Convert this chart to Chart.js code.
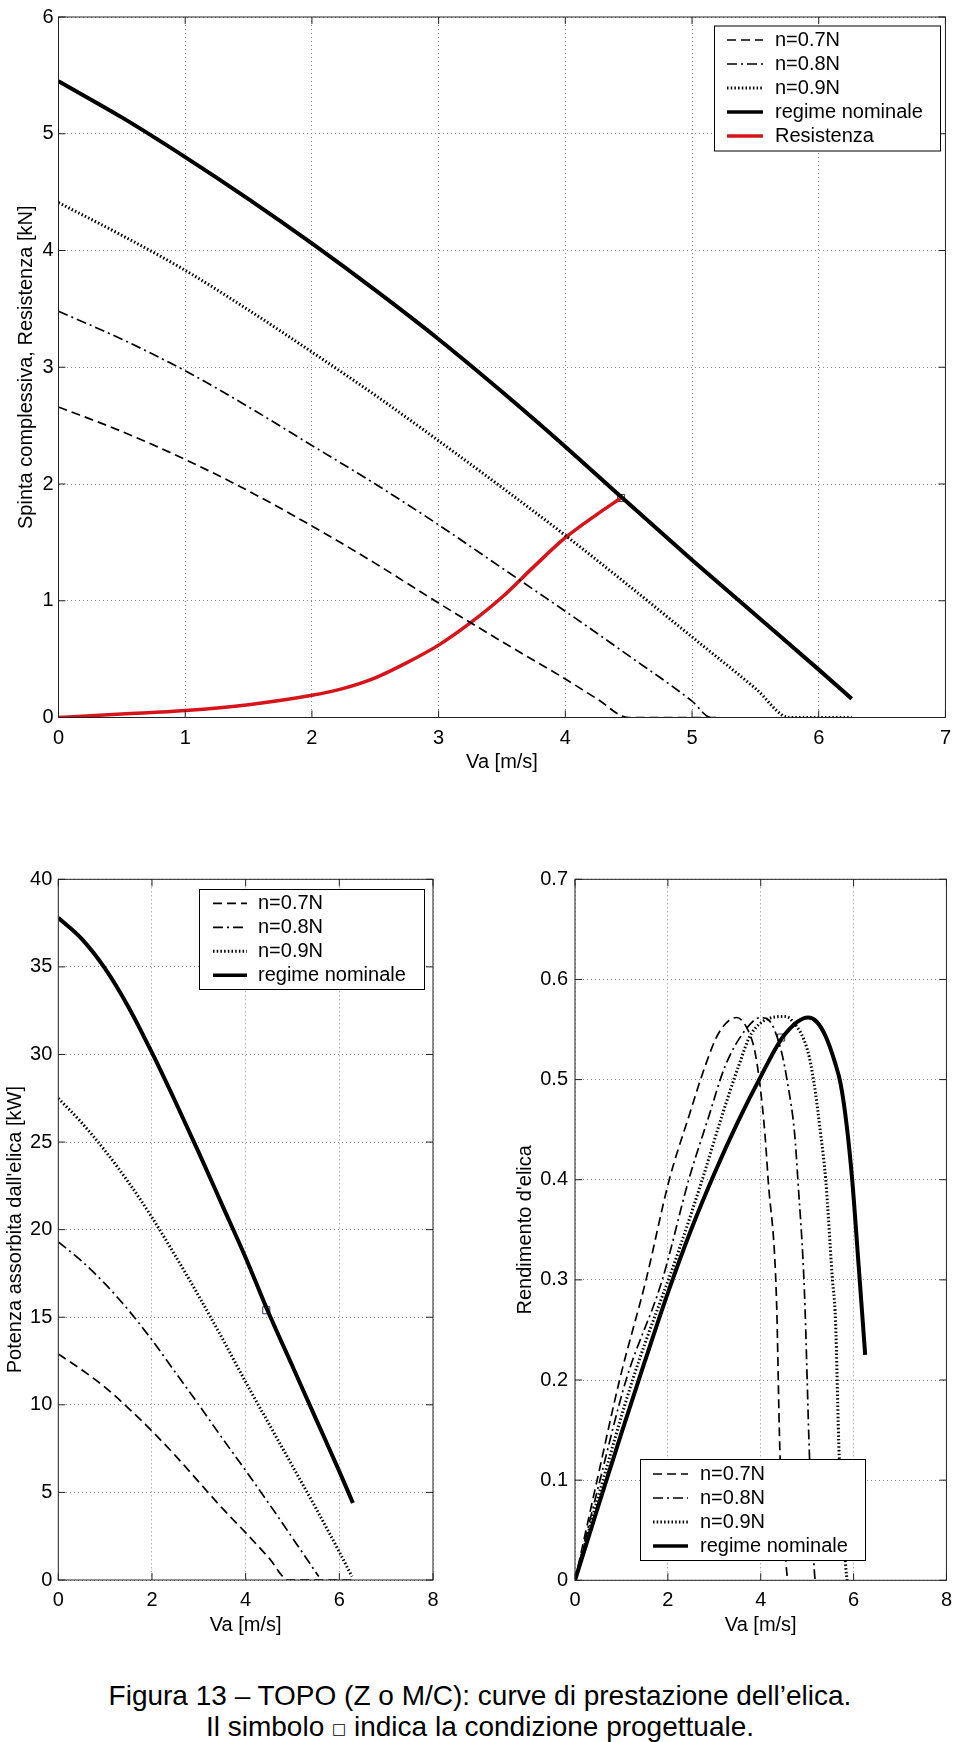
<!DOCTYPE html>
<html>
<head>
<meta charset="utf-8">
<script src="https://cdn.jsdelivr.net/npm/chart.js@4"></script>
<style>
  body { margin: 0; background: #fff; width: 960px; height: 1742px; position: relative; overflow: hidden;
         font-family: "Liberation Sans", Arial, sans-serif; }
  canvas { position: absolute; }
  #caption { position: absolute; left: 0; top: 1680px; width: 960px; text-align: center;
             font-size: 28px; line-height: 31px; color: #000; }
  #caption .sq { font-size: 15px; font-family: "DejaVu Sans", sans-serif; vertical-align: 2px; }
</style>
</head>
<body>
<canvas id="thrust" width="960" height="790" style="left:0;top:0"></canvas>
<canvas id="power" width="480" height="810" style="left:0;top:840px"></canvas>
<canvas id="eta" width="480" height="810" style="left:480px;top:840px"></canvas>
<div id="caption">Figura 13 – TOPO (Z o M/C): curve di prestazione dell’elica.<br>Il simbolo <span class="sq">□</span> indica la condizione progettuale.</div>

<script>
// --- spinta complessiva / resistenza [kN] vs Va [m/s]
const vaThrust70 = [0, 0.5, 1, 1.5, 2, 2.5, 3, 3.5, 4, 4.25, 4.5, 5.2];
const thrust70   = [2.66, 2.45, 2.21, 1.94, 1.64, 1.32, 0.98, 0.65, 0.33, 0.16, 0, 0];
const vaThrust80 = [0, 0.5, 1, 1.5, 2, 2.5, 3, 3.5, 4, 4.5, 5, 5.15, 5.2];
const thrust80   = [3.48, 3.24, 2.97, 2.66, 2.33, 2.0, 1.65, 1.28, 0.91, 0.53, 0.14, 0, 0];
const vaThrust90 = [0, 0.5, 1, 1.5, 2, 2.5, 3, 3.5, 4, 4.5, 5, 5.5, 5.77, 6.26];
const thrust90   = [4.41, 4.13, 3.83, 3.49, 3.13, 2.76, 2.37, 1.97, 1.56, 1.13, 0.69, 0.25, 0, 0];
const vaThrustNom = [0, 0.5, 1, 1.5, 2, 2.5, 3, 3.5, 4, 4.44, 5, 5.5, 6, 6.26];
const thrustNom   = [5.45, 5.14, 4.80, 4.44, 4.06, 3.66, 3.24, 2.79, 2.32, 1.89, 1.35, 0.88, 0.41, 0.16];
const vaRes      = [0, 0.5, 1, 1.5, 2, 2.25, 2.5, 2.75, 3, 3.25, 3.5, 3.75, 4, 4.25, 4.44];
const resistance = [0, 0.03, 0.06, 0.11, 0.19, 0.25, 0.34, 0.47, 0.62, 0.81, 1.03, 1.29, 1.54, 1.74, 1.88];

// --- potenza assorbita [kW]
const vaPow70 = [0, 0.5, 1, 1.5, 2, 2.5, 3, 3.5, 4, 4.5, 4.92, 6.29];
const pow70   = [12.9, 12.0, 11.0, 9.8, 8.5, 7.1, 5.6, 4.1, 2.7, 1.25, 0, 0];
const vaPow80 = [0, 0.5, 1, 1.5, 2, 2.5, 3, 3.5, 4, 4.5, 5, 5.56];
const pow80   = [19.3, 18.2, 16.9, 15.4, 13.7, 11.85, 10.0, 8.1, 6.25, 4.35, 2.4, 0.2];
const vaPow90 = [0, 0.5, 1, 1.5, 2, 2.5, 3, 3.5, 4, 4.5, 5, 5.5, 6, 6.27];
const pow90   = [27.5, 26.1, 24.5, 22.7, 20.7, 18.5, 16.2, 13.8, 11.3, 8.9, 6.5, 4.1, 1.6, 0.2];
const vaPowNom = [0, 0.5, 1, 1.5, 2, 2.5, 3, 3.5, 4, 4.45, 5, 5.5, 6, 6.29];
const powNom   = [37.8, 36.6, 34.9, 32.7, 30.1, 27.3, 24.4, 21.4, 18.4, 15.5, 12.2, 9.2, 6.2, 4.4];

// --- rendimento d'elica
const vaEta70 = [0, 0.5, 0.96, 1.53, 2.03, 2.45, 2.8, 3.09, 3.48, 3.73, 3.87, 3.98, 4.09, 4.16, 4.34, 4.41, 4.55, 4.58];
const eta70   = [0, 0.105, 0.2, 0.30, 0.40, 0.463, 0.513, 0.546, 0.562, 0.549, 0.529, 0.496, 0.446, 0.40, 0.28, 0.134, 0.014, 0];
const vaEta80 = [0, 0.5, 1.1, 1.88, 2.45, 2.88, 3.23, 3.66, 4.0, 4.16, 4.44, 4.58, 4.73, 4.8, 4.94, 5.05, 5.15, 5.17];
const eta80   = [0, 0.093, 0.2, 0.30, 0.40, 0.463, 0.513, 0.549, 0.562, 0.56, 0.529, 0.496, 0.446, 0.40, 0.29, 0.124, 0.013, 0];
const vaEta90 = [0, 0.5, 1.24, 2.24, 2.74, 3.16, 3.52, 3.8, 4.52, 4.65, 5.01, 5.15, 5.29, 5.40, 5.54, 5.61, 5.69, 5.83, 5.86];
const eta90   = [0, 0.083, 0.2, 0.33, 0.40, 0.463, 0.513, 0.546, 0.563, 0.56, 0.529, 0.496, 0.446, 0.40, 0.303, 0.26, 0.124, 0.014, 0];
const vaEtaNom = [0, 0.5, 1, 1.5, 2, 2.5, 3, 3.5, 4, 4.5, 5.02, 5.2, 5.4, 5.6, 5.72, 5.85, 5.97, 6.1, 6.25];
const etaNom   = [0, 0.074, 0.147, 0.218, 0.287, 0.350, 0.406, 0.457, 0.503, 0.544, 0.562, 0.558, 0.543, 0.517, 0.496, 0.455, 0.40, 0.32, 0.225];

// condizione progettuale (simbolo quadrato)
const designVa = [4.44];
const designThrust = [1.88];
const designPower = [15.4];
const designEta = [0.542];

const labels = ["n=0.7N", "n=0.8N", "n=0.9N", "regime nominale", "Resistenza"];

const FONT = '"Liberation Sans", Arial, sans-serif';
Chart.defaults.font.family = FONT;
Chart.defaults.font.size = 20;
Chart.defaults.color = "#000";

const pts = (xs, ys) => xs.map((x, i) => ({ x: x, y: ys[i] }));

const styles = [
  { borderColor: "#000", borderWidth: 1.7, borderDash: [9, 5] },
  { borderColor: "#000", borderWidth: 1.7, borderDash: [10, 4, 2, 4] },
  { borderColor: "#000", borderWidth: 3, borderDash: [1.5, 2.2] },
  { borderColor: "#000", borderWidth: 4 },
  { borderColor: "#d7141a", borderWidth: 3.5 }
];

function series(i, xs, ys) {
  return Object.assign({
    label: labels[i], data: pts(xs, ys), pointRadius: 0, fill: false,
    cubicInterpolationMode: "monotone", borderCapStyle: "butt"
  }, styles[i]);
}

function design(xs, ys) {
  return {
    data: pts(xs, ys), showLine: false, pointStyle: "rect", pointRadius: 5,
    borderColor: "#3b3350", borderWidth: 1, backgroundColor: "rgba(0,0,0,0)"
  };
}

// box around the plot with inward ticks, like the matlab axes
const frame = {
  id: "frame",
  afterDatasetsDraw(chart) {
    const { ctx, chartArea: a, scales } = chart;
    ctx.save();
    ctx.strokeStyle = "#222";
    ctx.lineWidth = 1;
    ctx.setLineDash([]);
    ctx.strokeRect(a.left, a.top, a.right - a.left, a.bottom - a.top);
    ctx.beginPath();
    scales.x.ticks.forEach(t => {
      const p = scales.x.getPixelForValue(t.value);
      ctx.moveTo(p, a.bottom); ctx.lineTo(p, a.bottom - 7);
      ctx.moveTo(p, a.top); ctx.lineTo(p, a.top + 7);
    });
    scales.y.ticks.forEach(t => {
      const p = scales.y.getPixelForValue(t.value);
      ctx.moveTo(a.left, p); ctx.lineTo(a.left + 7, p);
      ctx.moveTo(a.right, p); ctx.lineTo(a.right - 7, p);
    });
    ctx.stroke();
    ctx.restore();
  }
};

// legend drawn in a bordered box inside the plot
const boxLegend = {
  id: "boxLegend",
  afterDraw(chart, args, o) {
    const ctx = chart.ctx;
    const items = chart.data.datasets.filter(d => d.label);
    ctx.save();
    ctx.fillStyle = "#fff";
    ctx.fillRect(o.x, o.y, o.w, o.h);
    ctx.strokeStyle = "#000";
    ctx.lineWidth = 1;
    ctx.setLineDash([]);
    ctx.strokeRect(o.x + 0.5, o.y + 0.5, o.w, o.h);
    ctx.font = "20px " + FONT;
    ctx.textBaseline = "middle";
    items.forEach((d, i) => {
      const y = o.row0 + i * o.step;
      ctx.strokeStyle = d.borderColor;
      ctx.lineWidth = Math.min(d.borderWidth, 3.5);
      ctx.setLineDash(d.borderDash || []);
      ctx.beginPath();
      ctx.moveTo(o.lx1, y); ctx.lineTo(o.lx2, y);
      ctx.stroke();
      ctx.fillStyle = "#000";
      ctx.fillText(d.label, o.tx, y);
    });
    ctx.restore();
  }
};

function axis(min, max, step, title, size, tickPad, titlePad, horizontal) {
  return {
    type: "linear", min: min, max: max,
    ticks: { stepSize: step, padding: tickPad, color: "#000", font: { size: 20 } },
    grid: { color: "#8c8c8c", lineWidth: 1, drawTicks: false },
    border: { display: false, dash: [1, 3] },
    title: { display: true, text: title, color: "#000", font: { size: 20 }, padding: titlePad },
    afterFit: horizontal ? (s => { s.height = size; }) : (s => { s.width = size; })
  };
}

function makeChart(id, datasets, sc, pad, legend) {
  return new Chart(document.getElementById(id), {
    type: "line",
    data: { datasets: datasets },
    options: {
      responsive: false, animation: false, devicePixelRatio: 1,
      layout: { padding: pad },
      plugins: { legend: { display: false }, tooltip: { enabled: false }, boxLegend: legend },
      scales: sc
    },
    plugins: [frame, boxLegend]
  });
}

makeChart("thrust", [
    series(0, vaThrust70, thrust70),
    series(1, vaThrust80, thrust80),
    series(2, vaThrust90, thrust90),
    series(3, vaThrustNom, thrustNom),
    series(4, vaRes, resistance),
    design(designVa, designThrust)
  ], {
    x: axis(0, 7, 1, "Va [m/s]", 72.5, 9, { top: 0, bottom: 16 }, true),
    y: axis(0, 6, 1, "Spinta complessiva, Resistenza [kN]", 58.5, 5, { top: 14, bottom: 0 }, false)
  },
  { left: 0, right: 11, top: 15.7, bottom: 0 },
  { x: 714, y: 25.5, w: 226, h: 125, row0: 40, step: 24, lx1: 727, lx2: 763, tx: 775 });

makeChart("power", [
    series(0, vaPow70, pow70),
    series(1, vaPow80, pow80),
    series(2, vaPow90, pow90),
    series(3, vaPowNom, powNom),
    design(designVa, designPower)
  ], {
    x: axis(0, 8, 2, "Va [m/s]", 70, 8, { top: 0, bottom: 13 }, true),
    y: axis(0, 40, 5, "Potenza assorbita dall'elica [kW]", 58.3, 6, { top: 3, bottom: 0 }, false)
  },
  { left: 0, right: 47, top: 39.3, bottom: 0 },
  { x: 199, y: 49, w: 225, h: 100, row0: 63.3, step: 24, lx1: 213, lx2: 247, tx: 258 });

makeChart("eta", [
    series(0, vaEta70, eta70),
    series(1, vaEta80, eta80),
    series(2, vaEta90, eta90),
    series(3, vaEtaNom, etaNom),
    design(designVa, designEta)
  ], {
    x: axis(0, 8, 2, "Va [m/s]", 69.7, 8, { top: 0, bottom: 13 }, true),
    y: axis(0, 0.7, 0.1, "Rendimento d'elica", 95, 7, { top: 33, bottom: 0 }, false)
  },
  { left: 0, right: 10, top: 39.3, bottom: 0 },
  { x: 160, y: 619, w: 225, h: 101, row0: 634, step: 24, lx1: 173, lx2: 208, tx: 220 });
</script>
</body>
</html>
